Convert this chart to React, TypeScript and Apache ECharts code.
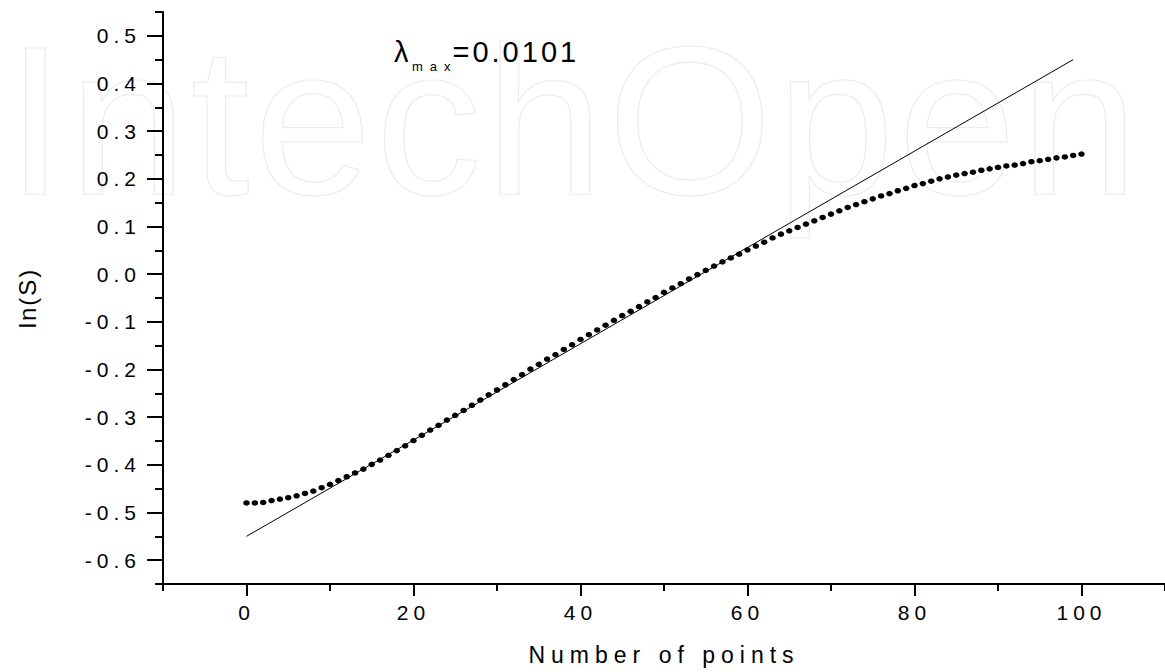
import React, { useEffect, useRef } from "react";
import * as echarts from "echarts";

// ln(S) values, one per point (x = 0 .. 100)
const lnS: number[] = [
  -0.480, -0.480, -0.479, -0.475, -0.472, -0.469, -0.465, -0.460, -0.455, -0.448,
  -0.441, -0.433, -0.425, -0.417, -0.409, -0.399, -0.390, -0.380, -0.370, -0.360,
  -0.349, -0.338, -0.327, -0.317, -0.306, -0.296, -0.286, -0.275, -0.264, -0.253,
  -0.243, -0.232, -0.221, -0.211, -0.199, -0.189, -0.178, -0.169, -0.158, -0.148,
  -0.137, -0.127, -0.117, -0.107, -0.097, -0.087, -0.078, -0.068, -0.058, -0.049,
  -0.038, -0.029, -0.020, -0.010, -0.001, 0.008, 0.017, 0.026, 0.034, 0.042,
  0.051, 0.059, 0.067, 0.076, 0.084, 0.091, 0.098, 0.105, 0.112, 0.119,
  0.126, 0.133, 0.140, 0.146, 0.152, 0.158, 0.164, 0.169, 0.175, 0.180,
  0.186, 0.190, 0.195, 0.200, 0.204, 0.208, 0.211, 0.214, 0.218, 0.221,
  0.224, 0.227, 0.229, 0.232, 0.236, 0.238, 0.241, 0.244, 0.246, 0.249,
  0.252,
];

// fitted straight line (slope = lambda_max)
const fitX: number[] = [0, 99];
const fitY: number[] = [-0.55, 0.45];

const xMajorTicks: number[] = [0, 20, 40, 60, 80, 100];
const xMinorTicks: number[] = [-10, 10, 30, 50, 70, 90, 110];
const yMajorTicks: number[] = [-0.6, -0.5, -0.4, -0.3, -0.2, -0.1, 0, 0.1, 0.2, 0.3, 0.4, 0.5];
const yMinorTicks: number[] = [-0.65, -0.55, -0.45, -0.35, -0.25, -0.15, -0.05, 0.05, 0.15, 0.25, 0.35, 0.45, 0.55];

const xTitle = "Number of points";
const yTitle = "ln(S)";
const lambdaSymbol = "λ";
const lambdaSub = "max";
const lambdaValue = "=0.0101";
const watermark = "IntechOpen";

const FONT = "Liberation Sans, Arial, sans-serif";

const css = `
#root svg text[style*="21px"]{letter-spacing:5px}
#root svg text[style*="23px"]{letter-spacing:6px}
#root svg text[style*="24px"]{letter-spacing:2px}
#root svg text[style*="29px"]{letter-spacing:3px}
#root svg text[style*="13px"]{letter-spacing:7px}
#root svg text[style*="212px"]{letter-spacing:4px}
`;

export default function App() {
  const ref = useRef<HTMLDivElement>(null);

  useEffect(() => {
    if (!ref.current) return;
    const chart = echarts.init(ref.current, null, { renderer: "svg", width: 1165, height: 672 });
    const black = "#000";
    const option: any = {
      animation: false,
      backgroundColor: "#fff",
      grid: { left: 163, right: 0, top: 12, bottom: 88, containLabel: false },
      xAxis: [
        {
          type: "value", min: -10, max: 110, position: "bottom",
          name: xTitle, nameLocation: "middle", nameGap: 59,
          nameTextStyle: { fontSize: 23, color: black, fontFamily: FONT },
          axisLine: { show: true, onZero: false, lineStyle: { color: black, width: 2 } },
          axisTick: { show: true, customValues: xMajorTicks, length: 12, lineStyle: { color: black, width: 2 } },
          axisLabel: { show: true, customValues: xMajorTicks, margin: 18, fontSize: 21, color: black, fontFamily: FONT },
          splitLine: { show: false },
        },
        {
          type: "value", min: -10, max: 110, position: "bottom",
          axisLine: { show: false, onZero: false },
          axisTick: { show: true, customValues: xMinorTicks, length: 7, lineStyle: { color: black, width: 2 } },
          axisLabel: { show: false },
          splitLine: { show: false },
        },
      ],
      yAxis: [
        {
          type: "value", min: -0.65, max: 0.55, position: "left",
          name: yTitle, nameLocation: "middle", nameGap: 124, nameRotate: 90,
          nameTextStyle: { fontSize: 24, color: black, fontFamily: FONT },
          axisLine: { show: true, onZero: false, lineStyle: { color: black, width: 2 } },
          axisTick: { show: true, customValues: yMajorTicks, length: 16, lineStyle: { color: black, width: 2 } },
          axisLabel: {
            show: true, customValues: yMajorTicks, margin: 22, fontSize: 21, color: black, fontFamily: FONT,
            formatter: (v: number) => v.toFixed(1),
          },
          splitLine: { show: false },
        },
        {
          type: "value", min: -0.65, max: 0.55, position: "left",
          axisLine: { show: false, onZero: false },
          axisTick: { show: true, customValues: yMinorTicks, length: 8, lineStyle: { color: black, width: 2 } },
          axisLabel: { show: false },
          splitLine: { show: false },
        },
      ],
      graphic: [
        {
          type: "text", z: -10, x: 6, y: 120, silent: true,
          style: {
            text: watermark, fontSize: 212, lineHeight: 160, fontFamily: FONT, fill: "none",
            stroke: "#ececec", lineWidth: 1.2, align: "left", verticalAlign: "middle",
          },
        },
        {
          type: "text", z: 10, x: 394, y: 51.6,
          style: { text: lambdaSymbol, fontSize: 29, fontFamily: FONT, fill: black, align: "left", verticalAlign: "middle" },
        },
        {
          type: "text", z: 10, x: 412, y: 66,
          style: { text: lambdaSub, fontSize: 13, fontFamily: FONT, fill: black, align: "left", verticalAlign: "middle" },
        },
        {
          type: "text", z: 10, x: 452.5, y: 51.6,
          style: { text: lambdaValue, fontSize: 29, fontFamily: FONT, fill: black, align: "left", verticalAlign: "middle" },
        },
      ],
      series: [
        {
          type: "line", xAxisIndex: 0, yAxisIndex: 0,
          data: fitX.map((x, i) => [x, fitY[i]]),
          symbol: "none", showSymbol: false, silent: true,
          lineStyle: { color: black, width: 1 }, z: 2,
        },
        {
          type: "scatter", xAxisIndex: 0, yAxisIndex: 0,
          data: lnS.map((v, i) => [i, v]),
          symbol: "circle", symbolSize: [6.5, 5.5],
          itemStyle: { color: black, opacity: 1 }, z: 3,
        },
      ],
    };
    chart.setOption(option);
    return () => chart.dispose();
  }, []);

  return (
    <>
      <style>{css}</style>
      <div
        ref={ref}
        style={{ position: "absolute", left: 0, top: 0, width: 1165, height: 672, background: "#fff" }}
      />
    </>
  );
}
